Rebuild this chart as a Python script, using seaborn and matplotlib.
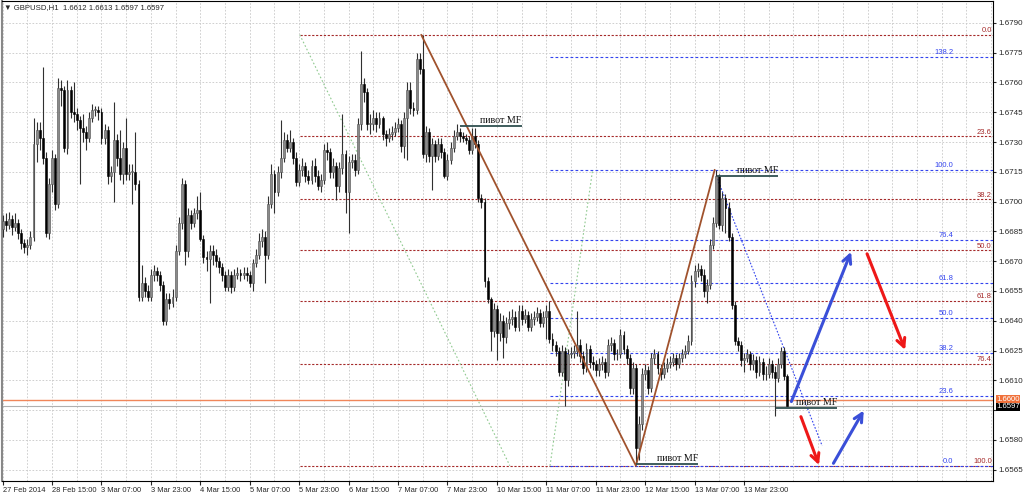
import numpy as np
import pandas as pd
import matplotlib
matplotlib.use('Agg')
import matplotlib.pyplot as plt
import seaborn as sns

# GBPUSD H1 candles, bar 0 = 27 Feb 23:00
first_open = 1.6686
closes = [
    1.6690, 1.6688, 1.6691, 1.6687, 1.6689, 1.6684, 1.6679, 1.6677, 1.6678, 1.6682,
    1.6729, 1.6736, 1.6732, 1.6722, 1.6684, 1.6709, 1.6722, 1.6699, 1.6757, 1.6756,
    1.6727, 1.6756, 1.6745, 1.6744, 1.6741, 1.6737, 1.6735, 1.6732, 1.6742, 1.6746,
    1.6746, 1.6745, 1.6732, 1.6736, 1.6713, 1.6715, 1.6731, 1.6722, 1.6714, 1.6727,
    1.6714, 1.6715, 1.6715, 1.6709, 1.6652, 1.6659, 1.6655, 1.6652, 1.6663, 1.6665,
    1.6663, 1.6658, 1.6640, 1.6651, 1.6649, 1.6652, 1.6675, 1.6689, 1.6709, 1.6675,
    1.6693, 1.6689, 1.6694, 1.6696, 1.6681, 1.6672, 1.6671, 1.6675, 1.6673, 1.6670,
    1.6667, 1.6663, 1.6657, 1.6663, 1.6657, 1.6663, 1.6664, 1.6663, 1.6664, 1.6663,
    1.6659, 1.6669, 1.6673, 1.6680, 1.6682, 1.6673, 1.6699, 1.6714, 1.6705, 1.6715,
    1.6722, 1.6731, 1.6727, 1.6730, 1.6722, 1.6710, 1.6716, 1.6718, 1.6713, 1.6711,
    1.6718, 1.6713, 1.6708, 1.6711, 1.6726, 1.6725, 1.6715, 1.6718, 1.6708, 1.6717,
    1.6724, 1.6705, 1.6720, 1.6721, 1.6716, 1.6739, 1.6759, 1.6755, 1.6739, 1.6739,
    1.6742, 1.6739, 1.6742, 1.6734, 1.6732, 1.6734, 1.6735, 1.6737, 1.6739, 1.6728,
    1.6742, 1.6756, 1.6747, 1.6746, 1.6772, 1.6767, 1.6724, 1.6735, 1.6723, 1.6729,
    1.6723, 1.6729, 1.6725, 1.6713, 1.6721, 1.6727, 1.6733, 1.6735, 1.6733, 1.6732,
    1.6731, 1.6726, 1.6733, 1.6729, 1.6702, 1.6700, 1.6660, 1.6651, 1.6635, 1.6646,
    1.6634, 1.6640, 1.6632, 1.6639, 1.6641, 1.6642, 1.6637, 1.6645, 1.6641, 1.6643,
    1.6637, 1.6641, 1.6642, 1.6644, 1.6639, 1.6642, 1.6645, 1.6631, 1.6628, 1.6625,
    1.6614, 1.6625, 1.6610, 1.6623, 1.6624, 1.6625, 1.6628, 1.6622, 1.6616, 1.6626,
    1.6619, 1.6618, 1.6615, 1.6618, 1.6619, 1.6614, 1.6628, 1.6629, 1.6623, 1.6623,
    1.6633, 1.6626, 1.6621, 1.6606, 1.6616, 1.6576, 1.6588, 1.6613, 1.6615, 1.6606,
    1.6621, 1.6623, 1.6616, 1.6613, 1.6616, 1.6618, 1.6619, 1.6621, 1.6618, 1.6621,
    1.6623, 1.6625, 1.6630, 1.6660, 1.6665, 1.6666, 1.6663, 1.6655, 1.6658, 1.6678,
    1.6689, 1.6713, 1.6688, 1.6702, 1.6697, 1.6682, 1.6648, 1.6630, 1.6628, 1.6620,
    1.6621, 1.6623, 1.6618, 1.6620, 1.6614, 1.6619, 1.6613, 1.6613, 1.6618, 1.6614,
    1.6611, 1.6618, 1.6625, 1.6612, 1.6597,
]
highs = [
    1.6693, 1.6694, 1.6695, 1.6693, 1.6694, 1.6691, 1.6686, 1.6681, 1.6681, 1.6685,
    1.6742, 1.6740, 1.6740, 1.6768, 1.6725, 1.6712, 1.6726, 1.6724, 1.6762, 1.6761,
    1.6758, 1.6761, 1.6758, 1.6760, 1.6747, 1.6743, 1.6744, 1.6738, 1.6745, 1.6749,
    1.6748, 1.6748, 1.6747, 1.6739, 1.6738, 1.6718, 1.6750, 1.6734, 1.6736, 1.6730,
    1.6742, 1.6719, 1.6719, 1.6735, 1.6711, 1.6668, 1.6662, 1.6658, 1.6666, 1.6668,
    1.6667, 1.6665, 1.6660, 1.6654, 1.6654, 1.6656, 1.6678, 1.6692, 1.6712, 1.6711,
    1.6697, 1.6696, 1.6697, 1.6703, 1.6705, 1.6683, 1.6675, 1.6678, 1.6678, 1.6676,
    1.6672, 1.6669, 1.6665, 1.6666, 1.6665, 1.6666, 1.6667, 1.6666, 1.6667, 1.6667,
    1.6665, 1.6671, 1.6676, 1.6684, 1.6686, 1.6685, 1.6703, 1.6719, 1.6716, 1.6718,
    1.6741, 1.6735, 1.6734, 1.6736, 1.6732, 1.6725, 1.6719, 1.6722, 1.6720, 1.6716,
    1.6721, 1.6722, 1.6716, 1.6714, 1.6729, 1.6730, 1.6727, 1.6722, 1.6720, 1.6720,
    1.6744, 1.6726, 1.6723, 1.6724, 1.6724, 1.6742, 1.6776, 1.6762, 1.6757, 1.6744,
    1.6746, 1.6745, 1.6745, 1.6743, 1.6736, 1.6737, 1.6738, 1.6740, 1.6742, 1.6741,
    1.6745, 1.6760, 1.6760, 1.6750, 1.6775, 1.6775, 1.6784, 1.6738, 1.6737, 1.6732,
    1.6731, 1.6732, 1.6732, 1.6727, 1.6724, 1.6730, 1.6736, 1.6739, 1.6737, 1.6735,
    1.6734, 1.6733, 1.6737, 1.6737, 1.6731, 1.6704, 1.6702, 1.6662, 1.6652, 1.6649,
    1.6648, 1.6644, 1.6643, 1.6642, 1.6645, 1.6646, 1.6645, 1.6648, 1.6648, 1.6646,
    1.6645, 1.6644, 1.6645, 1.6647, 1.6646, 1.6645, 1.6648, 1.6650, 1.6634, 1.6630,
    1.6627, 1.6628, 1.6627, 1.6626, 1.6627, 1.6628, 1.6645, 1.6631, 1.6625, 1.6629,
    1.6628, 1.6622, 1.6620, 1.6621, 1.6622, 1.6621, 1.6631, 1.6632, 1.6631, 1.6626,
    1.6636, 1.6635, 1.6628, 1.6623, 1.6619, 1.6618, 1.6592, 1.6616, 1.6618, 1.6617,
    1.6624, 1.6626, 1.6625, 1.6618, 1.6619, 1.6621, 1.6622, 1.6624, 1.6623, 1.6624,
    1.6626, 1.6628, 1.6633, 1.6663, 1.6668, 1.6669, 1.6668, 1.6666, 1.6661, 1.6681,
    1.6692, 1.6716, 1.6714, 1.6705, 1.6704, 1.6700, 1.6684, 1.6650, 1.6632, 1.6630,
    1.6624, 1.6626, 1.6625, 1.6623, 1.6622, 1.6622, 1.6621, 1.6617, 1.6621, 1.6620,
    1.6617, 1.6621, 1.6627, 1.6627, 1.6613,
]
lows = [
    1.6682, 1.6685, 1.6686, 1.6683, 1.6685, 1.6681, 1.6676, 1.6674, 1.6673, 1.6676,
    1.6680, 1.6720, 1.6726, 1.6719, 1.6682, 1.6681, 1.6705, 1.6696, 1.6697, 1.6748,
    1.6725, 1.6724, 1.6742, 1.6740, 1.6736, 1.6709, 1.6730, 1.6726, 1.6730, 1.6740,
    1.6743, 1.6741, 1.6729, 1.6729, 1.6709, 1.6710, 1.6700, 1.6718, 1.6711, 1.6709,
    1.6711, 1.6711, 1.6699, 1.6706, 1.6650, 1.6650, 1.6652, 1.6650, 1.6650, 1.6660,
    1.6660, 1.6655, 1.6638, 1.6638, 1.6646, 1.6647, 1.6650, 1.6673, 1.6686, 1.6668,
    1.6672, 1.6686, 1.6687, 1.6691, 1.6680, 1.6669, 1.6665, 1.6649, 1.6668, 1.6667,
    1.6664, 1.6660, 1.6655, 1.6655, 1.6654, 1.6655, 1.6661, 1.6660, 1.6661, 1.6660,
    1.6657, 1.6655, 1.6667, 1.6671, 1.6677, 1.6659, 1.6671, 1.6697, 1.6694, 1.6703,
    1.6712, 1.6720, 1.6725, 1.6725, 1.6719, 1.6708, 1.6708, 1.6713, 1.6710, 1.6709,
    1.6709, 1.6710, 1.6706, 1.6705, 1.6709, 1.6721, 1.6712, 1.6712, 1.6701, 1.6705,
    1.6714, 1.6694, 1.6684, 1.6717, 1.6713, 1.6714, 1.6736, 1.6750, 1.6736, 1.6734,
    1.6736, 1.6735, 1.6737, 1.6731, 1.6728, 1.6730, 1.6731, 1.6733, 1.6735, 1.6725,
    1.6722, 1.6721, 1.6744, 1.6743, 1.6744, 1.6764, 1.6722, 1.6720, 1.6720, 1.6706,
    1.6720, 1.6721, 1.6722, 1.6712, 1.6711, 1.6719, 1.6725, 1.6731, 1.6730, 1.6730,
    1.6729, 1.6724, 1.6724, 1.6727, 1.6700, 1.6697, 1.6657, 1.6649, 1.6625, 1.6632,
    1.6620, 1.6630, 1.6621, 1.6629, 1.6636, 1.6638, 1.6635, 1.6635, 1.6638, 1.6639,
    1.6635, 1.6635, 1.6638, 1.6640, 1.6637, 1.6637, 1.6631, 1.6629, 1.6625, 1.6622,
    1.6612, 1.6612, 1.6597, 1.6607, 1.6621, 1.6621, 1.6622, 1.6619, 1.6613, 1.6614,
    1.6616, 1.6615, 1.6612, 1.6612, 1.6615, 1.6611, 1.6612, 1.6625, 1.6620, 1.6620,
    1.6621, 1.6623, 1.6618, 1.6603, 1.6603, 1.6568, 1.6570, 1.6585, 1.6610, 1.6603,
    1.6604, 1.6618, 1.6613, 1.6610, 1.6611, 1.6614, 1.6616, 1.6617, 1.6615, 1.6616,
    1.6619, 1.6621, 1.6623, 1.6628, 1.6657, 1.6662, 1.6660, 1.6652, 1.6649, 1.6656,
    1.6676, 1.6687, 1.6686, 1.6685, 1.6684, 1.6680, 1.6646, 1.6628, 1.6625, 1.6617,
    1.6614, 1.6619, 1.6615, 1.6615, 1.6611, 1.6612, 1.6610, 1.6610, 1.6611, 1.6611,
    1.6592, 1.6609, 1.6616, 1.6610, 1.6597,
]
opens = [first_open] + closes[:-1]

x_labels = ["27 Feb 2014", "28 Feb 15:00", "3 Mar 07:00", "3 Mar 23:00", "4 Mar 15:00",
            "5 Mar 07:00", "5 Mar 23:00", "6 Mar 15:00", "7 Mar 07:00", "7 Mar 23:00",
            "10 Mar 15:00", "11 Mar 07:00", "11 Mar 23:00", "12 Mar 15:00", "13 Mar 07:00",
            "13 Mar 23:00"]

# analysis objects (bar index, price)
zig_x = [135.5, 205.0, 230.5]
zig_y = [1.6784, 1.6567, 1.6716]
fib1_x = [96.2, 164.2]
fib1_y = [1.6784, 1.6567]
fib1_levels = [0.0, 23.6, 38.2, 50.0, 61.8, 76.4, 100.0]
fib2_x = [177.2, 191.0]
fib2_y = [1.6567, 1.6716]
fib2_levels = [0.0, 23.6, 38.2, 50.0, 61.8, 76.4, 100.0, 138.2]
proj_x = [231.0, 265.3]
proj_y = [1.6713, 1.6577]
pivots = [(148.0, 168.0, 1.6738), (231.2, 251.0, 1.6713), (250.4, 270.1, 1.6596), (205.0, 225.1, 1.6568)]
blue_arrows = [((255.0, 1.6598), (275.0, 1.6676)), ((268.5, 1.6567), (279.2, 1.6596))]
red_arrows = [((279.5, 1.6675), (292.5, 1.6624)), ((258.1, 1.6593), (264.6, 1.6566))]
level_price = 1.6600

sns.set_style('white')
plt.rcParams['font.family'] = ['Liberation Sans', 'DejaVu Sans']

fig = plt.figure(figsize=(10.24, 4.95), dpi=100)
ax = fig.add_axes([2 / 1024, 14 / 495, 991 / 1024, 480 / 495])
x_max = 320.6
ax.set_xlim(-0.2, x_max)
ax.set_ylim(1.65593, 1.68010)

# grid
yticks = np.round(1.6565 + 0.0015 * np.arange(16), 4)
for v in yticks:
    ax.axhline(v, color='#c8c8c8', lw=0.6, ls=(0, (2, 2)), zorder=0)
for i in range(0, 321, 8):
    ax.axvline(i, color='#c8c8c8', lw=0.6, ls=(0, (2, 2)), zorder=0)

# candles
df = pd.DataFrame({'open': opens, 'high': highs, 'low': lows, 'close': closes})
df['bar'] = np.arange(len(df))
df['high'] = df[['high', 'open', 'close']].max(axis=1)
df['low'] = df[['low', 'open', 'close']].min(axis=1)
up = df['close'] >= df['open']
body = (df['close'] - df['open']).abs().clip(lower=0.00004)
bottom = df[['open', 'close']].min(axis=1)
ax.vlines(df['bar'], df['low'], df['high'], color='#303030', lw=0.8, zorder=3)
ax.bar(df['bar'][up], body[up], bottom=bottom[up], width=0.62,
       color='#8a8a8a', edgecolor='#505050', linewidth=0.4, zorder=3)
ax.bar(df['bar'][~up], body[~up], bottom=bottom[~up], width=0.62,
       color='black', edgecolor='black', linewidth=0.4, zorder=3)

# fibo retracement 1 (red)
fh, fl = fib1_y
for lvl in fib1_levels:
    p = fh - (fh - fl) * lvl / 100
    ax.hlines(p, fib1_x[0], x_max, color='#a52a2a', lw=0.8, ls=(0, (2, 1.5)), zorder=2)
    ax.text(320.2, p + 0.00003, f'{lvl:.1f}', color='#a52a2a', fontsize=5.5,
            ha='right', va='bottom', zorder=6)
ax.plot(fib1_x, fib1_y, color='#8fc98f', lw=0.8, ls=(0, (1.5, 2)), zorder=2)

# fibo 2 (blue)
bl, bh = fib2_y
for lvl in fib2_levels:
    p = bl + (bh - bl) * lvl / 100
    ax.hlines(p, fib2_x[0], x_max, color='#3344ee', lw=0.8, ls=(0, (2.5, 2)), zorder=2)
    ax.text(307.7, p + 0.00003, f'{lvl:.1f}', color='#3344ee', fontsize=5.5,
            ha='right', va='bottom', zorder=6)
ax.plot(fib2_x, fib2_y, color='#8fc98f', lw=0.8, ls=(0, (1.5, 2)), zorder=2)
ax.plot(proj_x, proj_y, color='#3344ee', lw=0.8, ls=(0, (1.5, 1.5)), zorder=2)

# zigzag
sns.lineplot(x=zig_x, y=zig_y, sort=False, color='#a0522d', lw=1.3, ax=ax, zorder=4)

# pivots
for x0, x1, p in pivots:
    ax.hlines(p, x0, x1, color='#2f4f4f', lw=1.3, zorder=5)
    ax.text(x1, p + 0.00006, 'пивот MF', family=['Liberation Serif', 'DejaVu Serif'],
            fontsize=7.2, color='#111111', ha='right', va='bottom', zorder=6)

# price lines
ax.axhline(level_price, color='#f0865a', lw=1.0, zorder=2)
ax.axhline(closes[-1], color='#b0b0b0', lw=0.8, zorder=2)

# arrows
for (x0, y0), (x1, y1) in blue_arrows:
    ax.annotate('', xy=(x1, y1), xytext=(x0, y0),
                arrowprops=dict(arrowstyle='->', color='#3a4fd8', lw=2.2, mutation_scale=15), zorder=7)
for (x0, y0), (x1, y1) in red_arrows:
    ax.annotate('', xy=(x1, y1), xytext=(x0, y0),
                arrowprops=dict(arrowstyle='->', color='#ee1818', lw=2.2, mutation_scale=15), zorder=7)

# axes
ax.yaxis.tick_right()
ax.set_yticks(yticks)
ax.set_yticklabels(['' if abs(v - 1.6595) < 1e-6 else f'{v:.4f}' for v in yticks])
ax.tick_params(axis='y', length=2, pad=2, labelsize=5.8, direction='out', right=True, left=False)
ax.set_xticks(np.arange(0, 16 * len(x_labels), 16))
ax.set_xticklabels(x_labels, ha='left')
ax.tick_params(axis='x', length=3, pad=1.5, labelsize=5.4, direction='out', bottom=True)
for s in ax.spines.values():
    s.set_color('black')
    s.set_linewidth(0.8)
ax.spines['left'].set_color('#888888')
ax.spines['left'].set_linewidth(1.5)

# price labels on the axis
tr = ax.get_yaxis_transform()
ax.text(1.003, closes[-1] - 0.00004, f'{closes[-1]:.4f}', transform=tr, ha='left', va='center',
        color='white', fontsize=5.6, bbox=dict(boxstyle='square,pad=0.05', fc='black', ec='none'),
        clip_on=False, zorder=8)
ax.text(1.003, level_price + 0.00005, f'{level_price:.4f}', transform=tr, ha='left', va='center',
        color='white', fontsize=5.6, bbox=dict(boxstyle='square,pad=0.05', fc='#f0703a', ec='none'),
        clip_on=False, zorder=9)

fig.text(4 / 1024, 1 - 8 / 495,
         f'▼ GBPUSD,H1  {opens[-1]:.4f} {highs[-1]:.4f} {lows[-1]:.4f} {closes[-1]:.4f}',
         fontsize=5.6, va='center', ha='left')

fig.savefig('out.png', dpi=100)
